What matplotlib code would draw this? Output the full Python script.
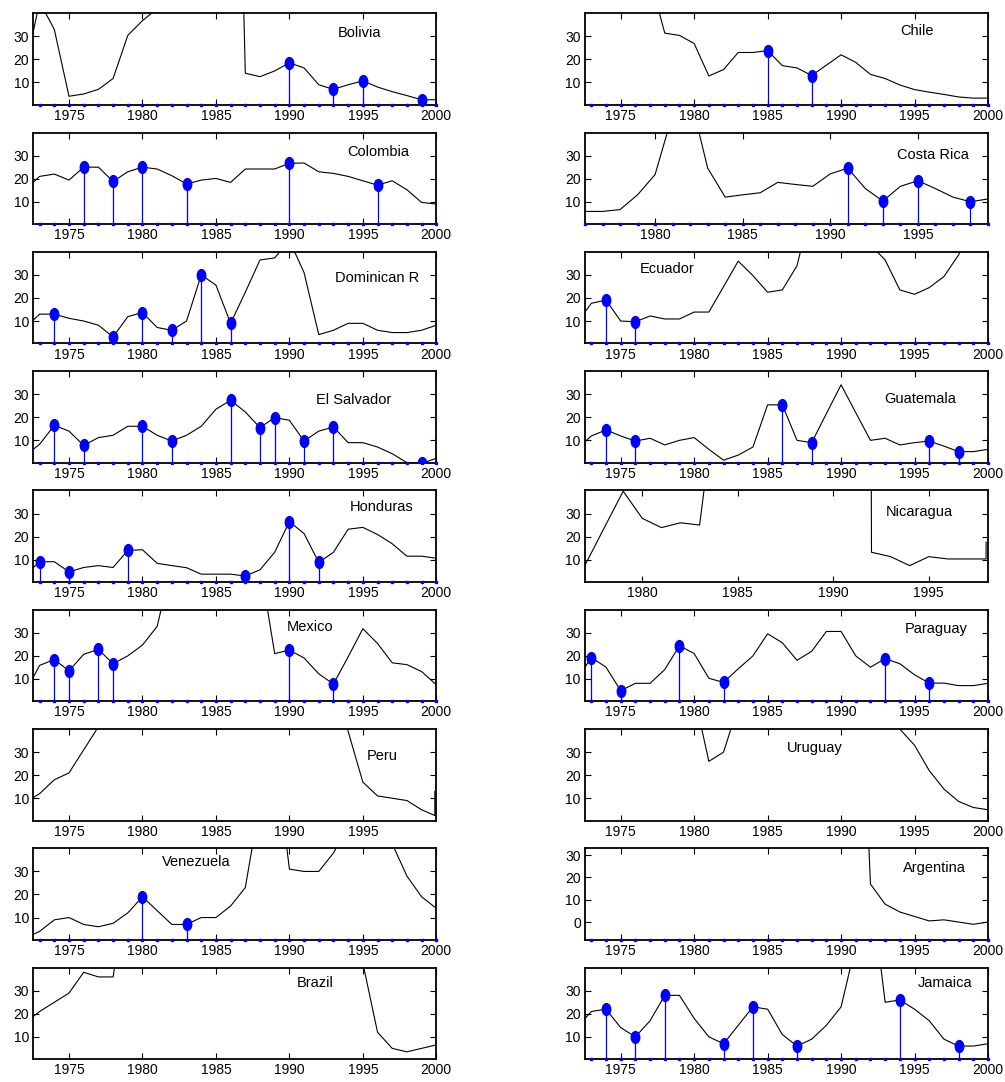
import matplotlib
matplotlib.use("Agg")
import matplotlib.pyplot as plt
from matplotlib.path import Path
from matplotlib.transforms import Affine2D

plt.rcParams['font.family'] = ['Liberation Sans', 'DejaVu Sans']

years = list(range(1972, 2001))

# values, 1972-2000 (clipped above the top of each panel)
bolivia = [15, 45, 33, 4, 5, 7, 11.7, 30.4, 36.8, 42, 120, 275, 1200, 10000, 276, 14,
           12.5, 15, 18.5, 16.3, 9, 7, 9, 10.7, 8, 6, 4.3, 2.5, 2.5]
chile = [150, 350, 500, 350, 200, 55, 31.4, 30.4, 26.9, 12.8, 15.6, 23, 23, 23.8, 17.3,
         16.3, 13, 17.5, 22, 18.7, 13.5, 11.7, 8.9, 6.9, 5.8, 4.8, 3.7, 3.2, 3.2]
colombia = [15, 21, 22, 19.4, 25, 25, 18.8, 23, 25, 24.2, 21.3, 17.7, 19.4, 20.1, 18.4,
            24.2, 24.2, 24.2, 26.7, 26.8, 23, 22.3, 21, 19.1, 17.2, 19.1, 15.2, 9.7, 9]
cr_years = list(range(1976, 2000))
costa_rica = [5.8, 5.8, 6.6, 13, 21.8, 48, 56, 24.6, 12, 13, 13.9, 18.4, 17.5, 16.7,
              22.1, 24.6, 15.7, 10.3, 16.7, 19.1, 15.7, 12, 10, 11.2]
dominican = [7, 13, 13, 11.2, 10, 8.2, 3.1, 11.9, 13.7, 7.2, 6, 10, 30, 25.6, 9, 22.5,
             36.5, 37.4, 45, 31, 4.1, 6, 9, 9, 6, 5, 5, 6, 8.2]
ecuador = [9, 17.7, 19.1, 10, 9.7, 12.2, 10.9, 10.9, 13.9, 13.9, 24.9, 36, 29.7, 22.5,
           23.5, 34, 60, 75, 48, 49, 43, 36.5, 23.5, 21.6, 24.5, 29.3, 38.7, 52, 96]
el_salvador = [3.2, 8.3, 16.5, 14, 7.8, 11.2, 12.2, 16.1, 16.1, 12.2, 9.7, 12.2, 16.1,
               23.5, 27.4, 22.3, 15.5, 19.9, 18.7, 9.7, 14, 15.8, 9, 9, 7.1, 4.2, 0.3, 0, 2.2]
guatemala = [6.1, 11.9, 14.5, 11.9, 9.7, 10.9, 8, 10, 11.2, 6.1, 1.4, 3.6, 7.1, 25.4,
             25.4, 10, 9, 21.6, 34.1, 22, 10, 10.9, 8, 9, 9.7, 7.5, 5.1, 5.1, 6.1]
honduras = [3.3, 9.1, 9.1, 4.7, 6.6, 7.4, 6.6, 14, 14.3, 8.4, 7.4, 6.5, 3.7, 3.7, 3.7,
            2.9, 5.6, 13.2, 26.5, 21.3, 8.8, 13.2, 23.2, 24, 20.9, 16.9, 11.5, 11.5, 10.6]
nic_years = list(range(1977, 1999)) + [1998]
nicaragua = [7.6, 23.7, 39.7, 27.9, 23.9, 26, 25, 90, 220, 680, 900, 14000, 4800, 7500,
             2700, 13.2, 11.3, 7.4, 11.3, 10.3, 10.3, 10.3, 17.6]
mexico = [4, 15.9, 18.4, 13.5, 20.7, 22.8, 16.6, 20, 24.7, 32.8, 60, 100, 65, 58, 86,
          130, 60, 21, 22.5, 19.1, 12.2, 7.8, 19.6, 31.8, 25.4, 17, 16.2, 13.2, 7.5]
paraguay = [9.5, 19.3, 15.1, 4.9, 8.1, 8.1, 14.1, 24.4, 21, 10.3, 8.5, 14.4, 20, 29.6,
            25.7, 18.1, 22, 30.6, 30.6, 20, 15.1, 18.8, 16.6, 11.8, 8.2, 8.2, 7.1, 7.1, 8.1]
peru_years = list(range(1972, 2000)) + [1999.9, 1999.9]
peru = [8, 12, 18, 21, 31, 41, 58, 67, 59, 75, 64, 111, 110, 163, 78, 86, 667, 3399,
        7482, 410, 73, 60, 39, 17, 11, 10, 9, 5, 2.5, 13]
uruguay = [77, 97, 77, 81, 50, 58, 44, 67, 55, 26, 30, 50, 55, 72, 76, 64, 62, 80, 113,
           102, 68, 50, 40, 33, 22, 14, 8.6, 6, 5]
venezuela = [1, 4, 9, 10, 7, 6, 7.5, 12, 19, 13, 7, 7, 10, 10, 15, 23, 60, 84, 31, 30, 30,
             38, 50, 60, 100, 42, 28, 19, 14]
argentina = [28, 36, 45, 180, 440, 176, 175, 160, 100, 104, 164, 344, 627, 672, 90, 131,
             343, 3080, 2314, 172, 17, 8, 4.5, 2.5, 0.5, 1, 0, -1, 0]
brazil = [16, 21, 25, 29, 38, 36, 36, 77, 100, 100, 100, 200, 220, 230, 145, 230, 680,
          1430, 2950, 430, 950, 1900, 900, 42, 12, 5, 3.5, 5, 6.5]
jamaica = [14, 21, 22, 14, 10, 17, 28, 28, 18, 10, 7, 15, 23, 22, 11, 6, 9, 15, 23, 50,
           77, 25, 26, 22, 17, 9, 6, 6, 7]

# years with a blue stem
bolivia_stems = [1990, 1993, 1995, 1999]
chile_stems = [1985, 1988]
colombia_stems = [1976, 1978, 1980, 1983, 1990, 1996]
costa_rica_stems = [1991, 1993, 1995, 1998]
dominican_stems = [1974, 1978, 1980, 1982, 1984, 1986]
ecuador_stems = [1974, 1976]
el_salvador_stems = [1974, 1976, 1980, 1982, 1986, 1988, 1989, 1991, 1993, 1999]
guatemala_stems = [1974, 1976, 1986, 1988, 1996, 1998]
honduras_stems = [1973, 1975, 1979, 1987, 1990, 1992]
mexico_stems = [1974, 1975, 1977, 1978, 1990, 1993]
paraguay_stems = [1973, 1975, 1979, 1982, 1993, 1996]
venezuela_stems = [1980, 1983]
jamaica_stems = [1974, 1976, 1978, 1982, 1984, 1987, 1994, 1998]

xticks_full = [1975, 1980, 1985, 1990, 1995, 2000]

# (name, x, y, stems, show baseline, xlim, xticks, ylim, yticks, label pos)
panels = [
    ("Bolivia", years, bolivia, bolivia_stems, True, (1972.57, 2000), xticks_full, None, None, (0.81, 0.79)),
    ("Chile", years, chile, chile_stems, True, (1972.57, 2000), xticks_full, None, None, (0.824, 0.81)),
    ("Colombia", years, colombia, colombia_stems, True, (1972.57, 2000), xticks_full, None, None, (0.855, 0.79)),
    ("Costa Rica", cr_years, costa_rica, costa_rica_stems, True, (1976, 1999), [1980, 1985, 1990, 1995], None, None, (0.864, 0.755)),
    ("Dominican R", years, dominican, dominican_stems, True, (1972.57, 2000), xticks_full, None, None, (0.852, 0.71)),
    ("Ecuador", years, ecuador, ecuador_stems, True, (1972.57, 2000), xticks_full, None, None, (0.203, 0.81)),
    ("El Salvador", years, el_salvador, el_salvador_stems, True, (1972.57, 2000), xticks_full, None, None, (0.794, 0.685)),
    ("Guatemala", years, guatemala, guatemala_stems, True, (1972.57, 2000), xticks_full, None, None, (0.831, 0.70)),
    ("Honduras", years, honduras, honduras_stems, True, (1972.57, 2000), xticks_full, None, None, (0.865, 0.82)),
    ("Nicaragua", nic_years, nicaragua, [], False, (1977, 1998.1), [1980, 1985, 1990, 1995], None, None, (0.829, 0.77)),
    ("Mexico", years, mexico, mexico_stems, True, (1972.57, 2000), xticks_full, None, None, (0.687, 0.815)),
    ("Paraguay", years, paraguay, paraguay_stems, True, (1972.57, 2000), xticks_full, None, None, (0.871, 0.79)),
    ("Peru", peru_years, peru, [], False, (1972.57, 2000), [1975, 1980, 1985, 1990, 1995], None, None, (0.867, 0.706)),
    ("Uruguay", years, uruguay, [], False, (1972.57, 2000), xticks_full, None, None, (0.571, 0.79)),
    ("Venezuela", years, venezuela, venezuela_stems, True, (1972.57, 2000), xticks_full, None, None, (0.404, 0.85)),
    ("Argentina", years, argentina, [], True, (1972.57, 2000), xticks_full, (-8, 33), [0, 10, 20, 30], (0.868, 0.79)),
    ("Brazil", years, brazil, [], False, (1972.57, 2000), xticks_full, None, None, (0.70, 0.83)),
    ("Jamaica", years, jamaica, jamaica_stems, True, (1972.57, 2000), xticks_full, None, None, (0.893, 0.83)),
]

# slightly tall oval marker like the original
oval = Path.unit_circle().transformed(Affine2D().scale(0.72, 1.0))

fig = plt.figure(figsize=(10.05, 10.82), dpi=100)
W, H = 1005, 1082
ax_w, ax_h = 403, 91.5

for i, (name, xs, vals, stems, base, xlim, xt, ylim, yt, lpos) in enumerate(panels):
    row, col = divmod(i, 2)
    left = 33.3 if col == 0 else 585
    top = 13.3 + 119.3 * row
    ax = fig.add_axes([left / W, 1 - (top + ax_h) / H, ax_w / W, ax_h / H])

    if ylim is None:
        ylim = (0.3, 40)
    if yt is None:
        yt = [10, 20, 30]
    ax.set_xlim(*xlim)
    ax.set_ylim(*ylim)

    ax.plot(xs, vals, color='black', lw=0.8, zorder=3)

    if stems:
        sv = [vals[xs.index(y)] for y in stems]
        ax.vlines(stems, ylim[0], sv, color='blue', lw=0.9, zorder=2)
        ax.plot(stems, sv, linestyle='none', marker=oval, markersize=8.5,
                color='blue', zorder=4)

    if base:
        bx = [y for y in range(1972, 2001) if xlim[0] - 0.01 <= y <= xlim[1] + 0.01]
        ax.plot(bx, [ylim[0]] * len(bx), linestyle='none', marker='s', markersize=2.0,
                color='blue', clip_on=False, zorder=5)

    ax.set_xticks(xt)
    ax.set_yticks(yt)
    ax.tick_params(direction='in', length=4, width=0.8, top=True, right=True,
                   labelsize=10, pad=3)
    for s in ax.spines.values():
        s.set_linewidth(1.3)

    ax.text(lpos[0], lpos[1], name, transform=ax.transAxes, ha='center', va='center',
            fontsize=10.5)

fig.savefig("out.png", dpi=100)
